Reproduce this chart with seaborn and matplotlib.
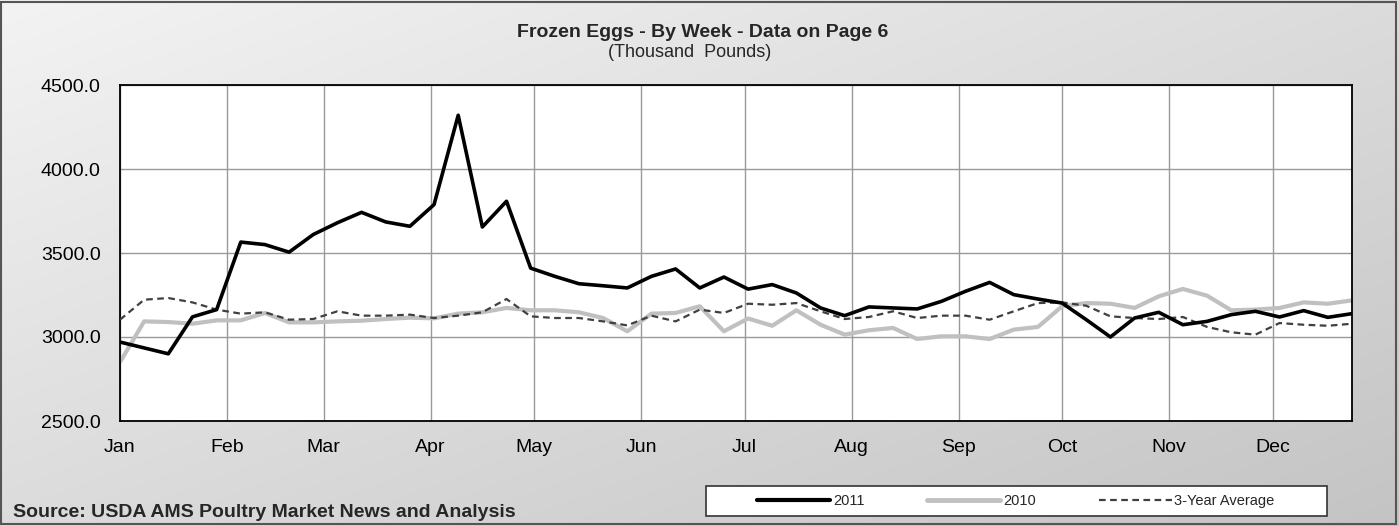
import numpy as np
import pandas as pd
import matplotlib
matplotlib.use("Agg")
import matplotlib.pyplot as plt
import seaborn as sns
from matplotlib.colors import LinearSegmentedColormap
from matplotlib.lines import Line2D
from matplotlib.patches import Rectangle

# Weekly frozen egg stocks (thousand pounds)
weeks = pd.date_range("2011-01-01", periods=52, freq="7D")
eggs_2011 = [2970, 2935, 2900, 3120, 3163, 3565, 3550, 3505, 3610, 3680,
             3742, 3685, 3659, 3788, 4320, 3655, 3808, 3410, 3361, 3317,
             3305, 3292, 3361, 3405, 3292, 3357,
             3285, 3312, 3262, 3173, 3127, 3179, 3173, 3167, 3212, 3272,
             3325, 3252, 3226, 3202, 3103, 3000, 3113, 3147, 3073, 3093,
             3133, 3153, 3119, 3157, 3117, 3139]
eggs_2010 = [2850, 3093, 3089, 3079, 3099, 3099, 3143, 3087, 3087, 3093,
             3097, 3107, 3115, 3111, 3139, 3147, 3173, 3159, 3159, 3147,
             3113, 3034, 3139, 3143, 3183, 3034,
             3110, 3067, 3159, 3073, 3014, 3040, 3054, 2988, 3004, 3004,
             2988, 3044, 3060, 3183, 3202, 3198, 3173, 3242, 3286, 3246,
             3159, 3163, 3173, 3206, 3198, 3218]
avg_3yr = [3103, 3222, 3232, 3206, 3163, 3139, 3147, 3103, 3107, 3153,
           3127, 3127, 3133, 3113, 3127, 3147, 3226, 3123, 3113, 3113,
           3093, 3069, 3127, 3093, 3163, 3143,
           3198, 3192, 3202, 3153, 3107, 3119, 3153, 3113, 3127, 3127,
           3103, 3153, 3202, 3206, 3186, 3123, 3113, 3107, 3119, 3060,
           3028, 3014, 3083, 3073, 3067, 3079]
month_starts = pd.date_range("2011-01-01", periods=12, freq="MS")
month_labels = [d.strftime("%b") for d in month_starts]
y_ticks = [2500, 3000, 3500, 4000, 4500]

sns.set_style("white")
plt.rcParams["font.family"] = ["Liberation Sans", "DejaVu Sans"]

W, H = 1399, 526
fig = plt.figure(figsize=(W / 100, H / 100), dpi=100)

# gradient background
bg = fig.add_axes([0, 0, 1, 1], zorder=-10)
yy, xx = np.mgrid[0:1:200j, 0:1:200j]
cmap = LinearSegmentedColormap.from_list("bg", ["#f3f3f3", "#c4c4c4"])
bg.imshow((xx + yy) / 2, cmap=cmap, aspect="auto", extent=[0, 1, 0, 1], origin="upper")
bg.axis("off")
fig.patches.append(Rectangle((0.001, 0.004), 0.997, 0.993, transform=fig.transFigure,
                             fill=False, edgecolor="#555555", lw=1.5))

ax = fig.add_axes([120 / W, 1 - 421 / H, (1352 - 120) / W, (421 - 85) / H])
ax.set_facecolor("white")

sns.lineplot(x=weeks, y=avg_3yr, ax=ax, color="#404040", lw=1.6,
             linestyle=(0, (3, 2)), zorder=3)
sns.lineplot(x=weeks, y=eggs_2010, ax=ax, color="#c0c0c0", lw=3.0, zorder=2)
sns.lineplot(x=weeks, y=eggs_2011, ax=ax, color="black", lw=2.6, zorder=4)
for ln in ax.get_lines():
    ln.set_solid_joinstyle("round")

ax.set_xlim(weeks[0], weeks[-1])
ax.set_ylim(2500, 4500)
ax.set_xticks(month_starts)
ax.set_xticklabels(month_labels)
ax.set_yticks(y_ticks)
ax.set_yticklabels([f"{v:.1f}" for v in y_ticks])
ax.tick_params(axis="both", length=0, labelsize=14, colors="black")
ax.tick_params(axis="y", pad=14)
ax.tick_params(axis="x", pad=13)
ax.grid(True, color="#999999", lw=1)
ax.set_axisbelow(True)
for s in ax.spines.values():
    s.set_color("black")
    s.set_linewidth(1.3)
ax.set_xlabel("")
ax.set_ylabel("")

fig.text(0.502, 1 - 37 / H, "Frozen Eggs - By Week - Data on Page 6", ha="center",
         va="baseline", fontsize=14, fontweight="bold")
fig.text(0.493, 1 - 57 / H, "(Thousand  Pounds)", ha="center", va="baseline", fontsize=13)
fig.text(13 / W, 1 - 517 / H, "Source: USDA AMS Poultry Market News and Analysis",
         ha="left", va="baseline", fontsize=14, fontweight="bold")

# legend box
fig.patches.append(Rectangle((706 / W, 1 - 516 / H), (1327 - 706) / W, 30 / H,
                             transform=fig.transFigure, facecolor="white",
                             edgecolor="#333333", lw=1.2, zorder=5))
handles = [Line2D([], [], color="black", lw=3),
           Line2D([], [], color="#c0c0c0", lw=3.5),
           Line2D([], [], color="#404040", lw=1.6, linestyle=(0, (3, 2)))]
leg = fig.legend(handles, ["2011", "2010", "3-Year Average"], loc="center",
                 bbox_to_anchor=(1016 / W, 1 - 501 / H), ncol=3, frameon=False,
                 fontsize=10.5, handlelength=5.0, handletextpad=0.2, columnspacing=4.3)
leg.set_zorder(6)

fig.savefig("out.png", dpi=100)
